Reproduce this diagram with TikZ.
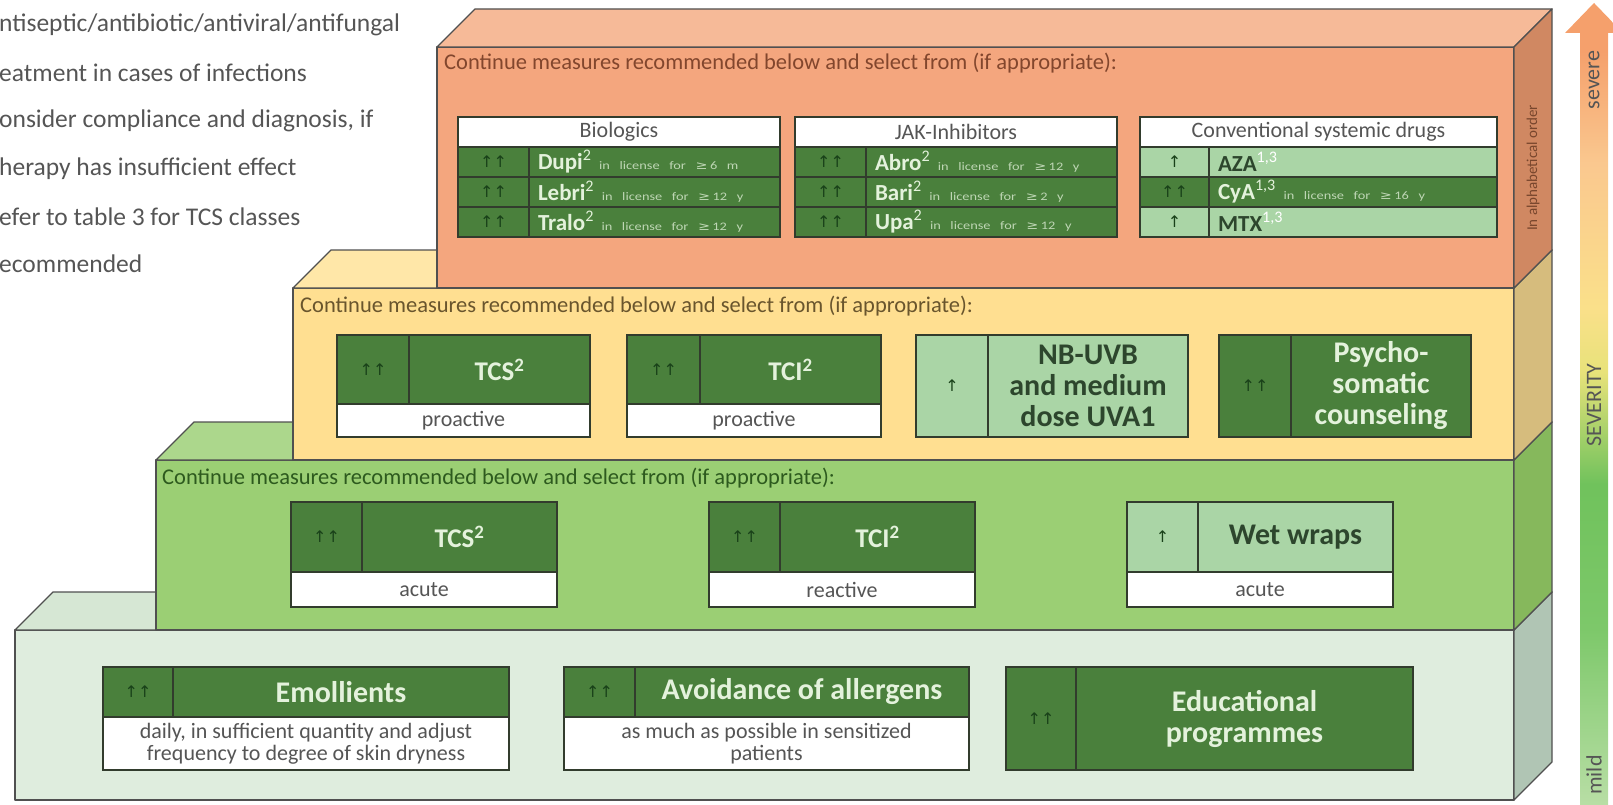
\documentclass[tikz,border=0pt]{standalone}
\usepackage{fontspec}
\setmainfont{Carlito}
\newfontfamily\symfont{DejaVu Sans}
\usepackage{graphicx}
\usepackage{tikz}
\usetikzlibrary{positioning}

\definecolor{edgegrey}{RGB}{80,80,80}
\definecolor{orgfront}{RGB}{244,166,126}
\definecolor{orgtop}{RGB}{246,186,152}
\definecolor{orgside}{RGB}{208,136,98}
\definecolor{ylwfront}{RGB}{255,223,145}
\definecolor{ylwtop}{RGB}{255,231,168}
\definecolor{ylwside}{RGB}{214,188,125}
\definecolor{grnfront}{RGB}{155,207,116}
\definecolor{grntop}{RGB}{172,215,140}
\definecolor{grnside}{RGB}{134,184,92}
\definecolor{mntfront}{RGB}{223,237,222}
\definecolor{mnttop}{RGB}{214,231,212}
\definecolor{mntside}{RGB}{176,197,180}
\definecolor{dkgreen}{RGB}{74,128,60}
\definecolor{ltgreen}{RGB}{170,213,166}
\definecolor{cellline}{RGB}{50,60,45}
\definecolor{paletext}{RGB}{228,242,220}
\definecolor{darktext}{RGB}{45,70,45}
\definecolor{arrowtext}{RGB}{25,65,25}
\definecolor{greytext}{RGB}{85,85,85}
\definecolor{licgrey}{RGB}{190,214,180}
\definecolor{sevA}{RGB}{184,222,165}
\definecolor{sevB}{RGB}{125,200,106}
\definecolor{sevC}{RGB}{112,194,92}
\definecolor{sevD}{RGB}{232,226,122}
\definecolor{sevE}{RGB}{250,224,138}
\definecolor{sevF}{RGB}{250,200,143}
\definecolor{sevG}{RGB}{245,160,108}

\pgfdeclareverticalshading{severity}{100bp}{color(0bp)=(sevA); color(25bp)=(sevA); color(36bp)=(sevB); color(45bp)=(sevC); color(52bp)=(sevD); color(56bp)=(sevE); color(65bp)=(sevF); color(72bp)=(sevG); color(100bp)=(sevG)}

\newcommand{\licnote}[1]{\scalebox{1.25}[1]{\fontsize{11.5}{12}\selectfont\color{licgrey}in license for {\symfont ≥}\,#1}}

\begin{document}
\begin{tikzpicture}[x=1pt, y=-1pt,
    slab/.style={draw=edgegrey, line width=1.3pt, line join=round},
    cell/.style={draw=cellline, line width=1.3pt, anchor=north west, inner sep=0pt, outer sep=0pt},
    dkcell/.style={cell, fill=dkgreen, text=paletext},
    ltcell/.style={cell, fill=ltgreen, text=darktext},
    whcell/.style={cell, fill=white, text=greytext, align=center, font=\fontsize{22}{22}\selectfont},
    arrcell/.style={font=\symfont\fontsize{16}{16}\selectfont, text=arrowtext},
    cellname/.style={align=center, font=\bfseries\fontsize{30}{31}\selectfont},
    druglbl/.style={align=left, inner xsep=9pt, font=\fontsize{23}{24}\selectfont},
    cont/.style={anchor=west, inner sep=0pt, font=\fontsize{22.5}{24}\selectfont},
    note/.style={anchor=west, inner sep=0pt, text=greytext, font=\fontsize{25.5}{27}\selectfont},
    sev/.style={rotate=90, text=greytext, font=\fontsize{22}{24}\selectfont}
]
    \useasboundingbox (0,0) rectangle (1613,805);
    \clip (0,0) rectangle (1613,805);

    % footnotes, cut at the left border
    \node[note] (fnA) at (-1,25) {ntiseptic/antibiotic/antiviral/antifungal};
    \node[note] (fnB) at (-1,73) {eatment in cases of infections};
    \node[note] (fnC) at (-1,121) {onsider compliance and diagnosis, if};
    \node[note] (fnD) at (-1,169) {herapy has insufficient effect};
    \node[note] (fnE) at (-1,217) {efer to table 3 for TCS classes};
    \node[note] (fnF) at (-1,264) {ecommended};

    % the four steps
    \foreach \xl/\yt/\yb/\cf/\ct/\cs in {15/630/800/mntfront/mnttop/mntside, 156/460/630/grnfront/grntop/grnside, 293/288/460/ylwfront/ylwtop/ylwside, 437/47/288/orgfront/orgtop/orgside} {
        \filldraw[slab, fill=\cf] (\xl,\yt) rectangle (1514,\yb);
        \filldraw[slab, fill=\ct] (\xl,\yt) -- ++(38,-38) -- (1552,\yt-38) -- (1514,\yt) -- cycle;
        \filldraw[slab, fill=\cs] (1514,\yt) -- (1552,\yt-38) -- (1552,\yb-38) -- (1514,\yb) -- cycle;
    }

    % severity arrow
    \shade[shading=severity] (1580,805) -- (1580,33) -- (1565,33) -- (1594,3) -- (1623,33) -- (1608,33) -- (1608,805) -- cycle;
    \node[sev] (sevTop) at (1594,80) {severe};
    \node[sev] (sevMid) at (1594,405) {SEVERITY};
    \node[sev] (sevLow) at (1594,775) {mild};

    % mild: basic therapy
    \node[dkcell, arrcell, minimum width=70pt, minimum height=50pt] (emoArr) at (103,667) {↑↑};
    \node[dkcell, cellname, minimum width=336pt, minimum height=50pt] (emo) at (173,667) {Emollients};
    \node[whcell, minimum width=406pt, minimum height=53pt] (emoNote) at (103,717) {daily, in sufficient quantity and adjust\\frequency to degree of skin dryness};

    \node[dkcell, arrcell, minimum width=71pt, minimum height=50pt] (avdArr) at (564,667) {↑↑};
    \node[dkcell, cellname, minimum width=334pt, minimum height=50pt] (avd) at (635,667) {Avoidance of allergens};
    \node[whcell, minimum width=405pt, minimum height=53pt] (avdNote) at (564,717) {as much as possible in sensitized\\patients};

    \node[dkcell, arrcell, minimum width=70pt, minimum height=103pt] (eduArr) at (1006,667) {↑↑};
    \node[dkcell, cellname, minimum width=337pt, minimum height=103pt] (edu) at (1076,667) {Educational\\programmes};

    % green step
    \node[cont, text={rgb,255:red,45;green,90;blue,30}] (contGrn) at (162,478) {Continue measures recommended below and select from (if appropriate):};

    \node[dkcell, arrcell, minimum width=71pt, minimum height=70pt] (tcsAArr) at (291,502) {↑↑};
    \node[dkcell, cellname, minimum width=195pt, minimum height=70pt, font=\bfseries\fontsize{27}{28}\selectfont] (tcsA) at (362,502) {TCS\textsuperscript{2}};
    \node[whcell, minimum width=266pt, minimum height=35pt] (tcsANote) at (291,572) {acute};

    \node[dkcell, arrcell, minimum width=71pt, minimum height=70pt] (tciRArr) at (709,502) {↑↑};
    \node[dkcell, cellname, minimum width=195pt, minimum height=70pt, font=\bfseries\fontsize{27}{28}\selectfont] (tciR) at (780,502) {TCI\textsuperscript{2}};
    \node[whcell, minimum width=266pt, minimum height=35pt] (tciRNote) at (709,572) {reactive};

    \node[ltcell, arrcell, minimum width=71pt, minimum height=70pt] (wetArr) at (1127,502) {↑};
    \node[ltcell, cellname, minimum width=195pt, minimum height=70pt] (wet) at (1198,502) {Wet wraps};
    \node[whcell, minimum width=266pt, minimum height=35pt] (wetNote) at (1127,572) {acute};

    % yellow step
    \node[cont, text={rgb,255:red,105;green,85;blue,45}] (contYlw) at (300,306) {Continue measures recommended below and select from (if appropriate):};

    \node[dkcell, arrcell, minimum width=72pt, minimum height=69pt] (tcsPArr) at (337,335) {↑↑};
    \node[dkcell, cellname, minimum width=181pt, minimum height=69pt, font=\bfseries\fontsize{27}{28}\selectfont] (tcsP) at (409,335) {TCS\textsuperscript{2}};
    \node[whcell, minimum width=253pt, minimum height=33pt] (tcsPNote) at (337,404) {proactive};

    \node[dkcell, arrcell, minimum width=73pt, minimum height=69pt] (tciPArr) at (627,335) {↑↑};
    \node[dkcell, cellname, minimum width=181pt, minimum height=69pt, font=\bfseries\fontsize{27}{28}\selectfont] (tciP) at (700,335) {TCI\textsuperscript{2}};
    \node[whcell, minimum width=254pt, minimum height=33pt] (tciPNote) at (627,404) {proactive};

    \node[ltcell, arrcell, minimum width=72pt, minimum height=102pt] (uvbArr) at (916,335) {↑};
    \node[ltcell, cellname, minimum width=200pt, minimum height=102pt] (uvb) at (988,335) {NB-UVB\\and medium\\dose UVA1};

    \node[dkcell, arrcell, minimum width=72pt, minimum height=102pt] (psyArr) at (1219,335) {↑↑};
    \node[dkcell, cellname, minimum width=180pt, minimum height=102pt] (psy) at (1291,335) {Psycho-\\somatic\\counseling};

    % orange step
    \node[cont, text={rgb,255:red,130;green,70;blue,45}] (contOrg) at (444,63) {Continue measures recommended below and select from (if appropriate):};
    \node[rotate=90, text={rgb,255:red,120;green,70;blue,45}, font=\fontsize{15}{16}\selectfont] (alphaNote) at (1533,168) {In alphabetical order};

    \node[whcell, minimum width=322pt, minimum height=30pt] (bioHead) at (458,117) {Biologics};
    \node[dkcell, arrcell, minimum width=71pt, minimum height=30pt] (dupiArr) at (458,147) {↑↑};
    \node[dkcell, druglbl, text width=233pt, minimum height=30pt] (dupi) at (529,147) {\textbf{Dupi}\textsuperscript{2} \licnote{6 m}};
    \node[dkcell, arrcell, minimum width=71pt, minimum height=30pt] (lebriArr) at (458,177) {↑↑};
    \node[dkcell, druglbl, text width=233pt, minimum height=30pt] (lebri) at (529,177) {\textbf{Lebri}\textsuperscript{2} \licnote{12 y}};
    \node[dkcell, arrcell, minimum width=71pt, minimum height=30pt] (traloArr) at (458,207) {↑↑};
    \node[dkcell, druglbl, text width=233pt, minimum height=30pt] (tralo) at (529,207) {\textbf{Tralo}\textsuperscript{2} \licnote{12 y}};

    \node[whcell, minimum width=322pt, minimum height=30pt] (jakHead) at (795,117) {JAK-Inhibitors};
    \node[dkcell, arrcell, minimum width=71pt, minimum height=30pt] (abroArr) at (795,147) {↑↑};
    \node[dkcell, druglbl, text width=233pt, minimum height=30pt] (abro) at (866,147) {\textbf{Abro}\textsuperscript{2} \licnote{12 y}};
    \node[dkcell, arrcell, minimum width=71pt, minimum height=30pt] (bariArr) at (795,177) {↑↑};
    \node[dkcell, druglbl, text width=233pt, minimum height=30pt] (bari) at (866,177) {\textbf{Bari}\textsuperscript{2} \licnote{2 y}};
    \node[dkcell, arrcell, minimum width=71pt, minimum height=30pt] (upaArr) at (795,207) {↑↑};
    \node[dkcell, druglbl, text width=233pt, minimum height=30pt] (upa) at (866,207) {\textbf{Upa}\textsuperscript{2} \licnote{12 y}};

    \node[whcell, minimum width=357pt, minimum height=30pt] (convHead) at (1140,117) {Conventional systemic drugs};
    \node[ltcell, arrcell, minimum width=69pt, minimum height=30pt] (azaArr) at (1140,147) {↑};
    \node[ltcell, druglbl, text width=270pt, minimum height=30pt] (aza) at (1209,147) {\textbf{AZA}\textsuperscript{\color{white}1,3}};
    \node[dkcell, arrcell, minimum width=69pt, minimum height=30pt] (cyaArr) at (1140,177) {↑↑};
    \node[dkcell, druglbl, text width=270pt, minimum height=30pt] (cya) at (1209,177) {\textbf{CyA}\textsuperscript{1,3} \licnote{16 y}};
    \node[ltcell, arrcell, minimum width=69pt, minimum height=30pt] (mtxArr) at (1140,207) {↑};
    \node[ltcell, druglbl, text width=270pt, minimum height=30pt] (mtx) at (1209,207) {\textbf{MTX}\textsuperscript{\color{white}1,3}};

\end{tikzpicture}
\end{document}
